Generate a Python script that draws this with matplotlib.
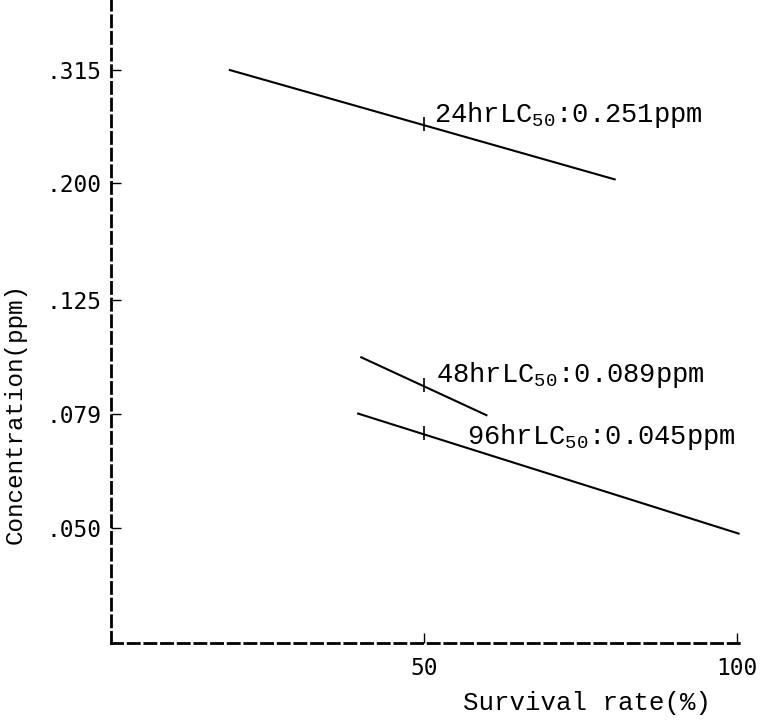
import matplotlib
matplotlib.use("Agg")
import matplotlib.pyplot as plt
from matplotlib.ticker import NullLocator, FixedLocator, FixedFormatter

plt.rcParams['mathtext.fontset'] = 'custom'
plt.rcParams['mathtext.rm'] = 'Liberation Mono'

# survival rate (%) vs concentration (ppm)
x24 = [19, 80.5]
y24 = [0.315, 0.203]
x48 = [40, 60]
y48 = [0.0993, 0.0787]
x96 = [39.5, 100.3]
y96 = [0.0792, 0.0489]

# LC50 marks at 50% survival
lc_x = [50, 50, 50]
lc_y = [0.254, 0.0889, 0.0734]
lc_labels = [r'24hrLC$_{50}$:0.251ppm', r'48hrLC$_{50}$:0.089ppm',
             r'96hrLC$_{50}$:0.045ppm']

yticks = [0.315, 0.200, 0.125, 0.079, 0.050]
ytick_labels = ['.315', '.200', '.125', '.079', '.050']
xticks = [50, 100]
xtick_labels = ['50', '100']

fig = plt.figure(figsize=(7.6, 7.22), dpi=100)
ax = fig.add_axes([0.146, 0.1094, 0.8316, 0.8906])

for xs, ys in [(x24, y24), (x48, y48), (x96, y96)]:
    ax.plot(xs, ys, color='black', lw=1.5)
ax.plot(lc_x, lc_y, ls='none', marker='|', ms=10, mew=1.2, color='black')

offsets = [(7, 6), (8.5, 7), (31, -3.5)]
for xv, yv, lab, off in zip(lc_x, lc_y, lc_labels, offsets):
    ax.annotate(lab, (xv, yv), xytext=off, textcoords='offset points',
                ha='left', va='center', family='Liberation Mono', fontsize=19.5)

ax.set_yscale('log')
ax.set_xlim(0, 101)
ax.set_ylim(0.0315, 0.4174)
ax.yaxis.set_major_locator(FixedLocator(yticks))
ax.yaxis.set_major_formatter(FixedFormatter(ytick_labels))
ax.yaxis.set_minor_locator(NullLocator())
ax.set_xticks(xticks)
ax.set_xticklabels(xtick_labels)

for side in ['top', 'right']:
    ax.spines[side].set_visible(False)
for side in ['left', 'bottom']:
    ax.spines[side].set_linestyle((0, (4, 2)))
    ax.spines[side].set_linewidth(2)

ax.tick_params(direction='in', length=7, width=1, labelsize=16.5)
ax.tick_params(axis='y', pad=7)
ax.tick_params(axis='x', pad=10)
for t in ax.get_xticklabels() + ax.get_yticklabels():
    t.set_family('DejaVu Sans Mono')

ax.set_ylabel('Concentration(ppm)', family='Liberation Mono', fontsize=17.5)
ax.yaxis.set_label_coords(-0.133, 0.357)
fig.text(587 / 760, 1 - 703 / 722, 'Survival rate(%)', ha='center', va='center',
         family='Liberation Mono', fontsize=18.5)

fig.savefig('out.png', dpi=100)
